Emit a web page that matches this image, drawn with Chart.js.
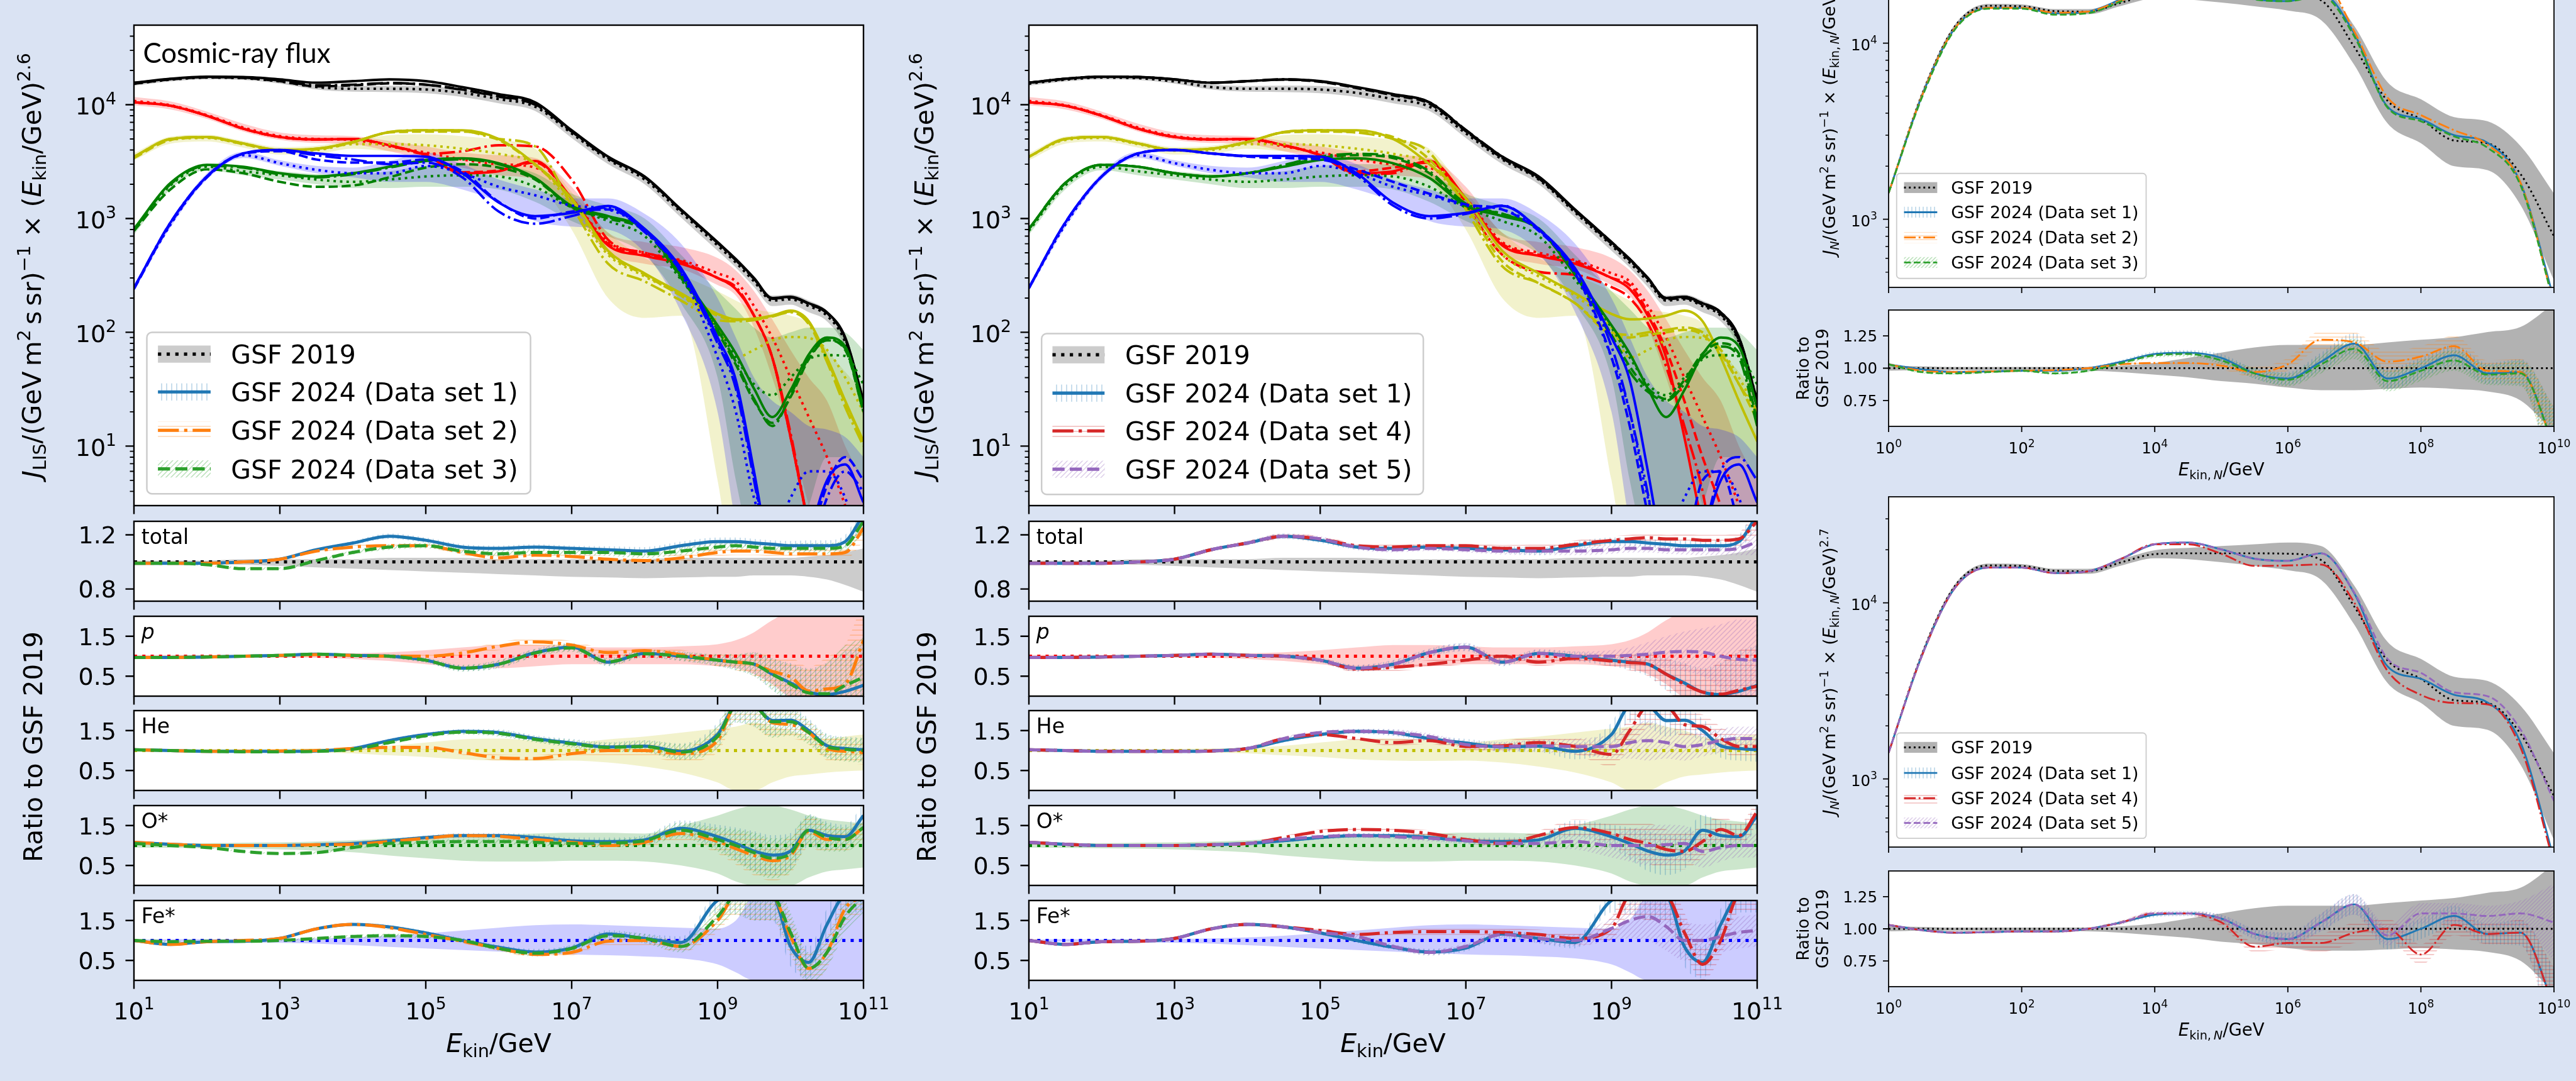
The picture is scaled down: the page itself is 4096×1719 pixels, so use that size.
<!DOCTYPE html>
<html>
<head>
<meta charset="utf-8">
<title>GSF 2019 vs GSF 2024</title>
<script src="https://cdn.jsdelivr.net/npm/chart.js@4.4.1/dist/chart.umd.min.js"></script>
<style>
  html, body { margin: 0; padding: 0; }
  body { width: 4096px; height: 1719px; overflow: hidden; background: #dae3f3; position: relative; }
  canvas { position: absolute; }
</style>
</head>
<body>
<script>
// ---------------- data ----------------
// kinetic energy grid (GeV), left and middle figures
const energy = [1e1, 3.16e1, 1e2, 3.16e2, 1e3, 3.16e3, 1e4, 3.16e4, 1e5, 3.16e5, 1e6, 3.16e6, 1e7, 3.16e7, 1e8, 3.16e8, 1e9, 1.78e9, 3.16e9, 5.62e9, 1e10, 1.78e10, 3.16e10, 5.62e10, 1e11];
// energy per nucleon grid (GeV), right figures
const energyN = [1, 3.16, 1e1, 3.16e1, 1e2, 3.16e2, 1e3, 3.16e3, 1e4, 3.16e4, 1e5, 3.16e5, 1e6, 3.16e6, 1e7, 3.16e7, 1e8, 3.16e8, 1e9, 3.16e9, 1e10];

// flux x E^2.6 : total
const tot2019 = [15300,16600,17300,17100,16000,14300,13800,13800,13600,12700,11200,9600,5600,3300,2200,1130,580,410,280,190,195,170,140,82,22];
const totLo   = [14700,16000,16700,16500,15300,13600,13000,12900,12600,11700,10300,8800,5100,3000,2000,1020,520,370,250,170,175,150,125,72,18];
const totHi   = [15900,17200,17900,17700,16700,15000,14600,14700,14600,13700,12100,10400,6100,3600,2400,1240,640,450,310,210,215,190,155,92,26];
const totDS1  = [15600,16900,17600,17500,16700,15600,16100,16700,16100,14300,12400,10500,5960,3490,2340,1200,620,440,300,200,205,180,150,90,25];
const totDS2  = [15500,16800,17500,17300,16300,14800,15000,15500,15000,13500,11800,10000,5800,3400,2300,1180,610,430,295,197,202,177,147,88,24];
const totDS3  = [15300,16700,17400,17200,16100,14500,14800,15400,15000,13600,11900,10100,5850,3450,2300,1190,615,435,297,198,203,178,148,89,24];
const totDS4  = [15600,16900,17600,17500,16700,15600,16100,16700,16000,14200,12300,10500,6000,3500,2300,1190,620,440,300,200,205,180,150,90,25];
const totDS5  = [15600,16900,17600,17500,16700,15600,16100,16600,15900,14000,12100,10200,5850,3400,2250,1170,600,430,295,195,200,175,145,85,22];
// protons
const p2019 = [10800,9900,8100,6300,5300,5000,4900,4300,3800,3300,3000,2800,1500,620,500,430,330,280,170,90,40,18,8,3,1];
const pLo   = [9900,9100,7500,5800,4900,4600,4500,3900,3300,2800,2400,2200,1200,500,400,360,260,210,110,40,12,3,0.8,0.3,0.1];
const pHi   = [11700,10700,8700,6800,5700,5400,5300,4800,4300,3800,3600,3400,1900,750,620,560,450,350,230,130,70,40,25,10,5];
const pDS1  = [10500,9800,8000,6150,5200,4950,5000,4400,3600,2500,2600,3200,1500,580,470,400,300,240,140,60,12,2,0.5,0.3,0.2];
const pDS2  = [10500,9800,8000,6150,5200,4950,5000,4400,3700,3900,4400,4300,2200,650,500,420,300,250,140,60,13,2,0.5,0.3,0.2];
const pDS3  = [10500,9800,8000,6150,5200,4950,5000,4400,3600,2550,2650,3100,1500,600,480,410,300,240,140,60,12,2,0.5,0.3,0.2];
const pDS4  = [10500,9800,8000,6150,5200,4950,5000,4400,3600,2450,2500,3200,1300,480,340,320,250,200,120,50,15,4,0.5,0.3,0.2];
const pDS5  = [10500,9800,8000,6150,5200,4950,5000,4400,3600,2600,2800,3100,1400,600,480,420,300,260,150,70,25,8,3,1,0.5];
// helium
const he2019 = [3490,4900,5100,4500,3950,4000,4500,4500,4400,4100,3700,3000,1300,480,310,210,110,60,70,85,91,89,70,40,20];
const heLo   = [3250,4550,4750,4200,3650,3700,4100,3900,3700,3300,2800,2200,800,200,134,140,5,0.5,0.2,0.2,0.2,0.2,0.2,0.2,0.2];
const heHi   = [3750,5250,5450,4800,4250,4350,4900,5400,5500,5300,4900,4100,1700,750,450,320,230,190,160,150,140,120,70,45,30];
const heDS1  = [3490,5000,5200,4560,4000,4100,4700,5750,5960,5960,5000,3000,1500,520,330,220,145,130,132,140,155,125,60,25,11];
const heDS2  = [3490,5000,5200,4560,4000,4100,4700,5750,5960,5900,5000,4300,1300,400,280,190,128,125,128,138,150,118,55,22,10];
const heDS3  = [3400,4900,5150,4500,3950,4050,4650,5700,5800,5800,4900,2950,1450,500,320,210,140,128,130,138,152,122,58,24,11];
const heDS4  = [3490,5000,5200,4560,4000,4100,4700,5750,5960,5700,5000,3800,1200,380,270,180,100,95,100,105,110,100,70,35,20];
const heDS5  = [3490,5000,5200,4560,4000,4100,4700,5700,5800,5700,5200,3300,1300,420,270,180,95,90,95,100,105,95,65,35,17];
// oxygen group
const o2019 = [780,1950,2850,2600,2400,2200,2100,2200,2340,2400,2340,1900,1250,950,700,290,110,60,35,28,40,58,63,62,35];
const oLo   = [720,1800,2650,2400,2200,2000,1850,1850,1900,1900,1800,1400,950,700,480,180,40,5,1,0.5,1,3,8,8,5];
const oHi   = [850,2100,3050,2800,2600,2450,2400,2600,2900,3000,2950,2500,1650,1300,1000,480,230,160,110,90,100,110,110,100,70];
const oDS1  = [810,2050,2960,2850,2500,2340,2500,2850,3270,3380,3060,2270,1290,1050,810,320,115,65,32,18,31,64,90,75,22];
const oDS2  = [800,2000,2900,2800,2450,2300,2450,2800,3200,3300,3000,2250,1270,1030,800,310,105,55,26,15,28,60,86,72,20];
const oDS3  = [780,1800,2700,2500,2100,1900,1950,2300,2800,3000,2800,2200,1250,1000,780,300,100,52,25,16,27,58,85,70,20];
const oDS4  = [810,2050,2960,2850,2500,2340,2500,2950,3500,3700,3500,2600,1350,1100,800,320,90,45,30,25,35,60,75,60,15];
const oDS5  = [810,2050,2960,2850,2500,2340,2500,2900,3400,3600,3400,2500,1300,1100,820,330,95,50,32,26,38,65,80,65,17];
// iron group
const fe2019 = [245,880,2340,3600,3060,2680,2500,2500,2900,2500,1900,1600,1300,1200,800,330,60,20,3.5,1.5,3.5,6,6,3.5,1];
const feLo   = [230,830,2200,3400,2900,2500,2300,2100,2100,1800,1400,950,850,800,500,150,20,2,0.3,0.2,0.2,0.2,0.2,0.2,0.2];
const feHi   = [260,940,2500,3850,3250,2900,2800,3200,3800,3000,2200,1800,1500,1500,1100,600,200,90,40,25,20,15,14,12,8];
const feDS1  = [245,920,2340,3730,4000,3730,3550,3550,3490,2500,1380,1050,1120,1290,810,365,90,38,6,0.8,0.3,1.5,5,6.9,3.2];
const feDS2  = [245,920,2340,3730,3950,3600,3300,3000,3100,2300,1150,900,1050,1250,760,340,80,32,5,0.7,0.3,1,3.5,6,4];
const feDS3  = [240,900,2300,3700,3900,3300,3100,3100,3300,2600,1400,1000,1150,1200,780,350,85,35,5.5,0.7,0.3,1.3,4.5,8,5];
const feDS4  = [245,920,2340,3730,4000,3730,3550,3550,3400,2400,1300,1000,1100,1300,800,350,75,20,3.8,0.5,0.3,1.5,6,8,5];
const feDS5  = [245,920,2340,3730,4000,3730,3500,3400,3300,2700,2100,1650,1330,1200,780,330,60,15,2.5,0.5,1,5,6,2,0.5];

// ratios to GSF 2019
const rTotLo = [0.99,0.99,0.985,0.98,0.97,0.96,0.95,0.94,0.93,0.92,0.91,0.9,0.89,0.885,0.88,0.885,0.89,0.89,0.9,0.9,0.9,0.89,0.87,0.83,0.78];
const rTotHi = [1.01,1.01,1.01,1.02,1.02,1.02,1.02,1.03,1.03,1.03,1.02,1.02,1.02,1.02,1.02,1.03,1.03,1.03,1.03,1.03,1.03,1.04,1.05,1.07,1.1];
const rTot1 = [0.99,0.99,0.99,1.0,1.02,1.09,1.14,1.19,1.16,1.11,1.1,1.11,1.1,1.09,1.08,1.12,1.15,1.15,1.14,1.13,1.12,1.12,1.12,1.15,1.35];
const rTot2 = [0.99,0.99,0.99,1.0,1.02,1.08,1.11,1.12,1.12,1.07,1.03,1.05,1.04,1.02,1.01,1.03,1.07,1.08,1.08,1.07,1.06,1.06,1.06,1.07,1.25];
const rTot3 = [0.99,0.99,0.98,0.95,0.95,1.01,1.07,1.11,1.12,1.08,1.06,1.07,1.07,1.07,1.06,1.08,1.11,1.12,1.11,1.1,1.1,1.1,1.1,1.12,1.3];
const rTot4 = [0.99,0.99,0.99,1.0,1.02,1.09,1.14,1.19,1.17,1.12,1.11,1.12,1.12,1.1,1.1,1.13,1.16,1.17,1.18,1.17,1.17,1.16,1.16,1.17,1.3];
const rTot5 = [0.99,0.99,0.99,1.0,1.02,1.09,1.14,1.19,1.17,1.11,1.09,1.1,1.09,1.08,1.08,1.08,1.09,1.1,1.1,1.09,1.09,1.09,1.09,1.1,1.15];
const errTot = [0.01,0.01,0.01,0.01,0.01,0.01,0.015,0.02,0.02,0.02,0.02,0.02,0.02,0.025,0.03,0.03,0.03,0.03,0.03,0.03,0.035,0.04,0.04,0.05,0.1];

const rPLo = [0.95,0.95,0.96,0.97,0.97,0.96,0.93,0.88,0.8,0.72,0.7,0.75,0.8,0.8,0.8,0.8,0.75,0.7,0.55,0.3,0,0,0,0,0];
const rPHi = [1.03,1.03,1.03,1.03,1.04,1.05,1.07,1.1,1.15,1.22,1.28,1.28,1.25,1.22,1.22,1.25,1.3,1.4,1.6,1.9,2.1,2.1,2.1,2.1,2.1];
const rP1 = [0.97,0.97,0.98,1.0,1.02,1.05,1.02,1.0,0.9,0.7,0.8,1.09,1.23,0.85,1.07,1.0,0.9,0.85,0.8,0.55,0.33,0.1,0.04,0.12,0.27];
const rP2 = [0.97,0.97,0.98,1.0,1.02,1.04,1.02,1.0,1.0,1.08,1.25,1.36,1.28,1.09,1.14,1.04,0.9,0.85,0.8,0.62,0.48,0.13,0.18,0.3,1.4];
const rP3 = [0.97,0.97,0.98,1.0,1.02,1.05,1.02,1.0,0.9,0.7,0.8,1.08,1.21,0.86,1.06,1.0,0.9,0.85,0.8,0.55,0.3,0.08,0.06,0.27,0.47];
const rP4 = [0.97,0.97,0.98,1.0,1.02,1.05,1.02,1.0,0.9,0.68,0.72,0.8,0.9,1.0,0.85,0.95,0.88,0.84,0.8,0.55,0.3,0.1,0.05,0.15,0.25];
const rP5 = [0.97,0.97,0.98,1.0,1.02,1.05,1.02,1.0,0.9,0.7,0.8,1.09,1.23,0.85,1.07,1.0,1.0,1.02,1.05,1.1,1.12,1.1,1.0,0.92,0.9];
const errP = [0.02,0.02,0.02,0.02,0.02,0.03,0.04,0.05,0.06,0.08,0.1,0.1,0.1,0.1,0.1,0.12,0.15,0.2,0.3,0.4,0.5,0.6,0.8,1.0,1.0];

const rHeLo = [0.97,0.97,0.97,0.97,0.96,0.95,0.93,0.88,0.84,0.78,0.75,0.74,0.75,0.7,0.6,0.45,0.2,0,0,0.2,0.35,0.4,0.45,0.48,0.5];
const rHeHi = [1.03,1.03,1.03,1.03,1.04,1.05,1.07,1.12,1.2,1.28,1.3,1.25,1.2,1.28,1.35,1.45,1.55,1.6,1.7,1.6,1.5,1.35,1.3,1.35,1.4];
const rHe1 = [1.02,1.0,0.98,0.98,0.98,0.99,1.05,1.25,1.4,1.48,1.45,1.3,1.19,1.09,1.11,0.98,1.4,2.1,2.1,1.75,1.76,1.5,1.12,1.05,1.02];
const rHe2 = [1.02,1.0,0.98,0.98,0.99,1.0,1.05,1.08,1.08,0.95,0.82,0.8,0.92,1.0,1.0,0.92,1.25,2.1,2.1,1.7,1.65,1.45,1.05,0.98,0.95];
const rHe3 = [1.02,1.0,0.98,0.97,0.97,0.98,1.03,1.2,1.37,1.46,1.43,1.28,1.17,1.08,1.1,0.96,1.35,2.1,2.1,1.72,1.72,1.45,1.1,1.03,1.0];
const rHe4 = [1.02,1.0,0.98,0.98,0.98,0.99,1.05,1.3,1.4,1.3,1.2,1.25,1.1,1.12,1.2,1.1,0.9,1.5,2.1,2.1,1.65,1.6,1.3,1.1,1.1];
const rHe5 = [1.02,1.0,0.98,0.98,0.98,0.99,1.05,1.3,1.45,1.48,1.45,1.35,1.15,1.1,1.12,1.1,1.1,1.2,1.25,1.2,1.1,1.15,1.25,1.3,1.3];
const errHe = [0.02,0.02,0.02,0.02,0.02,0.03,0.04,0.05,0.05,0.06,0.08,0.08,0.1,0.12,0.15,0.2,0.3,0.4,0.5,0.4,0.35,0.3,0.3,0.3,0.3];

const rOLo = [0.95,0.94,0.93,0.92,0.9,0.87,0.83,0.75,0.68,0.62,0.6,0.6,0.62,0.62,0.6,0.5,0.3,0.1,0,0,0,0.2,0.35,0.4,0.45];
const rOHi = [1.05,1.06,1.06,1.07,1.08,1.1,1.13,1.18,1.22,1.25,1.27,1.3,1.32,1.32,1.3,1.5,1.75,1.9,2.0,2.0,1.9,1.75,1.65,1.6,1.55];
const rO1 = [1.08,1.03,1.0,1.0,1.0,1.02,1.05,1.12,1.2,1.25,1.25,1.2,1.12,1.1,1.14,1.43,1.22,1.05,0.86,0.76,0.86,1.38,1.25,1.22,1.75];
const rO2 = [1.08,1.03,1.0,1.0,1.0,1.02,1.03,1.1,1.18,1.25,1.23,1.15,1.08,1.0,1.08,1.3,1.1,0.92,0.75,0.62,0.75,1.35,1.15,1.15,1.45];
const rO3 = [1.05,1.0,0.95,0.85,0.8,0.82,0.95,1.05,1.08,1.1,1.1,1.08,1.05,1.06,1.12,1.38,1.15,1.0,0.82,0.68,0.8,1.38,1.2,1.15,1.45];
const rO4 = [1.08,1.03,1.0,1.0,1.0,1.02,1.05,1.2,1.35,1.4,1.38,1.3,1.15,1.05,1.25,1.45,1.3,1.15,1.05,0.9,0.85,1.1,1.4,1.25,1.85];
const rO5 = [1.08,1.03,1.0,1.0,1.0,1.02,1.05,1.15,1.22,1.25,1.22,1.18,1.12,1.05,1.05,1.1,1.0,1.0,1.0,1.02,1.05,0.85,0.95,1.0,1.0];
const errO = [0.03,0.02,0.02,0.02,0.02,0.03,0.04,0.05,0.05,0.06,0.06,0.08,0.08,0.1,0.12,0.2,0.3,0.4,0.5,0.5,0.45,0.4,0.35,0.3,0.3];

const rFeLo = [0.98,0.97,0.96,0.95,0.94,0.92,0.88,0.84,0.8,0.76,0.72,0.68,0.65,0.63,0.6,0.55,0.4,0.2,0,0,0,0,0,0,0];
const rFeHi = [1.02,1.03,1.03,1.03,1.04,1.05,1.08,1.12,1.18,1.25,1.32,1.38,1.4,1.38,1.35,1.32,1.3,1.5,2.1,2.1,2.1,2.1,2.1,2.1,2.1];
const rFe1 = [1.0,0.9,0.97,0.98,1.05,1.29,1.4,1.34,1.19,1.0,0.83,0.71,0.81,1.16,1.05,0.95,2.0,2.1,2.1,2.1,0.85,0.45,1.4,2.1,2.1];
const rFe2 = [1.0,0.9,0.97,1.0,1.05,1.29,1.4,1.32,1.15,0.98,0.8,0.65,0.7,0.98,1.0,0.85,1.5,2.1,2.1,2.1,1.1,0.3,0.7,1.8,2.1];
const rFe3 = [1.0,0.97,0.98,0.98,1.0,1.05,1.1,1.12,1.1,1.0,0.8,0.68,0.8,1.12,1.05,0.85,1.6,2.1,2.1,2.1,1.2,0.3,0.7,1.6,2.1];
const rFe4 = [1.0,0.9,0.97,0.98,1.05,1.29,1.4,1.34,1.25,1.15,1.2,1.22,1.22,1.2,1.15,1.05,1.3,2.1,2.1,2.1,1.2,0.4,1.0,2.1,2.1];
const rFe5 = [1.0,0.9,0.97,0.98,1.05,1.29,1.4,1.34,1.2,1.1,0.85,0.7,0.85,1.15,1.05,1.0,1.3,1.5,1.6,1.35,1.0,1.0,1.1,1.2,1.25];
const errFe = [0.03,0.02,0.02,0.02,0.02,0.03,0.04,0.05,0.05,0.06,0.06,0.08,0.08,0.1,0.12,0.15,0.3,0.45,0.6,0.6,0.5,0.4,0.4,0.4,0.4];

// all-particle flux per nucleon x E^2.7 (right figures)
const all2019 = [1410,5100,12500,16300,16200,15200,15100,17000,18900,19100,19100,19100,19000,17500,9500,4700,3700,2800,2700,1800,800];
const allLo   = [1380,4950,12200,15900,15800,14800,14600,16300,17900,17700,17000,16200,15300,13500,7500,3500,2700,2000,1900,1200,450];
const allHi   = [1440,5250,12800,16700,16600,15600,15600,17700,19900,20500,21000,21500,22000,21000,12500,6000,4800,3800,3600,2600,1400];
const allDS1  = [1410,5000,12200,15850,15850,14760,15100,17800,21500,22000,20100,17800,17300,19100,11300,4350,3700,3000,2720,1600,350];
const allDS2  = [1410,5000,12200,15850,15850,14900,15100,17500,19600,19700,19100,18500,18900,23000,11600,4900,3900,3200,2650,1600,330];
const allDS3  = [1410,4900,12000,15700,15700,14500,14800,17300,20800,21000,19500,17700,17300,18600,10900,4300,3600,2950,2550,1550,330];
const allDS4  = [1410,5000,12200,15850,15850,14760,15100,17800,21500,21500,19000,16200,16300,16500,10000,4100,3000,2700,2650,1500,330];
const allDS5  = [1410,5000,12200,15850,15850,14760,15100,17800,21500,22000,20100,17800,17300,19100,11400,4800,4000,3100,2950,1900,750];
const rrLo  = [0.98,0.985,0.985,0.985,0.985,0.985,0.98,0.97,0.95,0.93,0.9,0.88,0.85,0.83,0.83,0.84,0.85,0.84,0.82,0.75,0.5];
const rrHi  = [1.02,1.015,1.01,1.01,1.01,1.01,1.01,1.02,1.04,1.08,1.12,1.16,1.18,1.18,1.18,1.2,1.22,1.24,1.28,1.32,1.5];
const rrDS1 = [1.03,0.99,0.97,0.975,0.98,0.98,1.0,1.05,1.11,1.12,1.08,0.96,0.92,1.05,1.19,0.92,1.0,1.1,0.96,0.97,0.4];
const rrDS2 = [1.03,0.98,0.97,0.975,0.98,0.985,1.0,1.03,1.04,1.04,1.02,0.97,1.03,1.22,1.2,1.05,1.09,1.17,0.98,0.97,0.4];
const rrDS3 = [1.03,0.97,0.96,0.97,0.98,0.96,0.98,1.04,1.1,1.11,1.06,0.96,0.91,1.03,1.15,0.9,0.98,1.06,0.95,0.96,0.4];
const rrDS4 = [1.03,0.99,0.97,0.975,0.98,0.98,1.0,1.05,1.12,1.12,1.05,0.86,0.89,0.89,0.97,1.0,0.8,1.03,0.96,0.97,0.4];
const rrDS5 = [1.03,0.99,0.97,0.975,0.98,0.98,1.0,1.05,1.12,1.12,1.08,0.96,0.92,1.05,1.19,0.95,1.12,1.12,1.1,1.12,1.05];
const rrErr = [0.01,0.01,0.01,0.01,0.01,0.01,0.01,0.015,0.02,0.02,0.03,0.04,0.05,0.07,0.08,0.08,0.08,0.08,0.08,0.1,0.3];

// tick values
const xTicksLeft = [1e1, 1e3, 1e5, 1e7, 1e9, 1e11];
const xTicksRight = [1, 1e2, 1e4, 1e6, 1e8, 1e10];

// ---------------- helpers ----------------
const S = 0.91;
const R = v => Math.round(v * S);
const unity = energy.map(() => 1);
const unityN = energyN.map(() => 1);

const SET = {
  1: { color: '#1f77b4', style: 'solid', hatch: ['|', 'rgba(31,119,180,0.33)'], label: 'GSF 2024 (Data set 1)' },
  2: { color: '#ff7f0e', style: 'dashdot', hatch: ['-', 'rgba(255,127,14,0.33)'], label: 'GSF 2024 (Data set 2)' },
  3: { color: '#2ca02c', style: 'dashed', hatch: ['/', 'rgba(44,160,44,0.33)'], label: 'GSF 2024 (Data set 3)' },
  4: { color: '#d62728', style: 'dashdot', hatch: ['-', 'rgba(214,39,40,0.33)'], label: 'GSF 2024 (Data set 4)' },
  5: { color: '#9467bd', style: 'dashed', hatch: ['/', 'rgba(148,103,189,0.33)'], label: 'GSF 2024 (Data set 5)' }
};

const COMPS = [
  { color: '#000000', fill: 'rgba(0,0,0,0.2)', lo: totLo, hi: totHi, ref: tot2019, sets: { 1: totDS1, 2: totDS2, 3: totDS3, 4: totDS4, 5: totDS5 } },
  { color: '#ff0000', fill: 'rgba(255,0,0,0.2)', lo: pLo, hi: pHi, ref: p2019, sets: { 1: pDS1, 2: pDS2, 3: pDS3, 4: pDS4, 5: pDS5 } },
  { color: '#bfbf00', fill: 'rgba(191,191,0,0.2)', lo: heLo, hi: heHi, ref: he2019, sets: { 1: heDS1, 2: heDS2, 3: heDS3, 4: heDS4, 5: heDS5 } },
  { color: '#008000', fill: 'rgba(0,128,0,0.2)', lo: oLo, hi: oHi, ref: o2019, sets: { 1: oDS1, 2: oDS2, 3: oDS3, 4: oDS4, 5: oDS5 } },
  { color: '#0000ff', fill: 'rgba(0,0,255,0.2)', lo: feLo, hi: feHi, ref: fe2019, sets: { 1: feDS1, 2: feDS2, 3: feDS3, 4: feDS4, 5: feDS5 } }
];

const PANELS = [
  { label: [{ t: 'total' }], color: '#000000', fill: 'rgba(0,0,0,0.2)', lo: rTotLo, hi: rTotHi, err: errTot, ymin: 0.71, ymax: 1.3, ticks: [0.8, 1.2], sets: { 1: rTot1, 2: rTot2, 3: rTot3, 4: rTot4, 5: rTot5 } },
  { label: [{ t: 'p', it: true }], color: '#ff0000', fill: 'rgba(255,0,0,0.2)', lo: rPLo, hi: rPHi, err: errP, ymin: 0, ymax: 2, ticks: [0.5, 1.5], sets: { 1: rP1, 2: rP2, 3: rP3, 4: rP4, 5: rP5 } },
  { label: [{ t: 'He' }], color: '#bfbf00', fill: 'rgba(191,191,0,0.2)', lo: rHeLo, hi: rHeHi, err: errHe, ymin: 0, ymax: 2, ticks: [0.5, 1.5], sets: { 1: rHe1, 2: rHe2, 3: rHe3, 4: rHe4, 5: rHe5 } },
  { label: [{ t: 'O*' }], color: '#008000', fill: 'rgba(0,128,0,0.2)', lo: rOLo, hi: rOHi, err: errO, ymin: 0, ymax: 2, ticks: [0.5, 1.5], sets: { 1: rO1, 2: rO2, 3: rO3, 4: rO4, 5: rO5 } },
  { label: [{ t: 'Fe*' }], color: '#0000ff', fill: 'rgba(0,0,255,0.2)', lo: rFeLo, hi: rFeHi, err: errFe, ymin: 0, ymax: 2, ticks: [0.5, 1.5], sets: { 1: rFe1, 2: rFe2, 3: rFe3, 4: rFe4, 5: rFe5 } }
];

const DASHES = { solid: [], dotted: [1, 1.65], dashed: [3.7, 1.6], dashdot: [6.4, 1.6, 1, 1.6] };
const dashFor = (style, lw) => DASHES[style].map(v => v * lw);

// hatch patterns like matplotlib '|', '-', '/'
function hatch(kind, color, step) {
  const c = document.createElement('canvas');
  c.width = c.height = step;
  const g = c.getContext('2d');
  g.strokeStyle = color;
  g.lineWidth = 1.5;
  g.beginPath();
  if (kind === '|') { g.moveTo(step / 2, 0); g.lineTo(step / 2, step); }
  else if (kind === '-') { g.moveTo(0, step / 2); g.lineTo(step, step / 2); }
  else {
    g.moveTo(-1, step + 1); g.lineTo(step + 1, -1);
    g.moveTo(-1, 1); g.lineTo(1, -1);
    g.moveTo(step - 1, step + 1); g.lineTo(step + 1, step - 1);
  }
  g.stroke();
  return g.createPattern(c, 'repeat');
}
const HATCH_BIG = {}, HATCH_SMALL = {};
[1, 2, 3, 4, 5].forEach(k => {
  HATCH_BIG[k] = hatch(SET[k].hatch[0], SET[k].hatch[1], 8);
  HATCH_SMALL[k] = hatch(SET[k].hatch[0], SET[k].hatch[1], 6);
});

const pts = (xs, ys) => xs.map((x, i) => ({ x: x, y: ys[i] }));

function lineDs(xs, ys, color, style, lw) {
  return { data: pts(xs, ys), borderColor: color, borderWidth: lw, borderDash: dashFor(style, lw),
    borderCapStyle: 'butt', borderJoinStyle: 'round', pointRadius: 0, fill: false };
}
function bandDs(xs, lo, hi, fillStyle) {
  return [
    { data: pts(xs, lo), borderWidth: 0, borderColor: 'rgba(0,0,0,0)', pointRadius: 0, fill: false },
    { data: pts(xs, hi), borderWidth: 0, borderColor: 'rgba(0,0,0,0)', pointRadius: 0, fill: '-1', backgroundColor: fillStyle }
  ];
}
function hatchDs(xs, mid, err, pattern) {
  return bandDs(xs, mid.map((v, i) => v - err[i]), mid.map((v, i) => v + err[i]), pattern);
}
function ordered(ds) {
  ds.forEach((d, i) => { d.order = ds.length - i; });
  return ds;
}

// rich text: segments {t, it, sub, sup}
function segFont(s, F) {
  const size = (s.sub || s.sup) ? F * 0.7 : F;
  return (s.it ? 'italic ' : '') + size.toFixed(2) + 'px "DejaVu Sans"';
}
function richWidth(ctx, segs, F) {
  let w = 0;
  segs.forEach(s => { ctx.font = segFont(s, F); w += ctx.measureText(s.t).width; });
  return w;
}
function drawRich(ctx, segs, F, x, y, align) {
  const w = richWidth(ctx, segs, F);
  let cx = align === 'center' ? x - w / 2 : (align === 'right' ? x - w : x);
  ctx.textAlign = 'left';
  ctx.textBaseline = 'alphabetic';
  segs.forEach(s => {
    ctx.font = segFont(s, F);
    const dy = s.sub ? 0.2 * F : (s.sup ? -0.42 * F : 0);
    ctx.fillText(s.t, cx, y + dy);
    cx += ctx.measureText(s.t).width;
  });
}
const powSegs = n => [{ t: '10' }, { t: String(n), sup: true }];

const STYLE_BIG = { spine: 2.4, tick: 13.5, minor: 6.5, tickF: 38, gap: 28, xoff: 62, lw: 5, mainLw: 3.9 };
const STYLE_SMALL = { spine: 1.8, tick: 9, minor: 5, tickF: 24.5, gap: 18, xoff: 43, lw: 2.9, mainLw: 2.9 };

// legend drawn inside a chart
function drawLegend(ctx, tx, ty, L, items) {
  const x0 = tx(L.box[0]), y0 = ty(L.box[1]), x1 = tx(L.box[2]), y1 = ty(L.box[3]);
  ctx.save();
  ctx.beginPath();
  ctx.roundRect(x0, y0, x1 - x0, y1 - y0, L.radius);
  ctx.fillStyle = 'rgba(255,255,255,0.8)';
  ctx.fill();
  ctx.strokeStyle = '#cccccc';
  ctx.lineWidth = L.border;
  ctx.stroke();
  items.forEach((it, i) => {
    const yc = ty(L.rows[i]);
    const hx0 = tx(L.hx[0]), hx1 = tx(L.hx[1]);
    ctx.fillStyle = it.patch;
    ctx.fillRect(hx0, yc - L.hh, hx1 - hx0, 2 * L.hh);
    ctx.strokeStyle = it.color;
    ctx.lineWidth = L.lw;
    ctx.lineCap = 'butt';
    ctx.setLineDash(dashFor(it.style, L.lw));
    ctx.beginPath();
    ctx.moveTo(hx0, yc);
    ctx.lineTo(hx1, yc);
    ctx.stroke();
    ctx.setLineDash([]);
    ctx.fillStyle = '#000';
    ctx.font = L.F + 'px "DejaVu Sans"';
    ctx.textAlign = 'left';
    ctx.textBaseline = 'alphabetic';
    ctx.fillText(it.label, tx(L.tx), yc + 0.365 * L.F);
  });
  ctx.restore();
}

// one Chart.js chart per axes box (rect in reference pixels)
function makeChart(rect, cfg) {
  const px0 = R(rect[0]), px1 = R(rect[1]), py0 = R(rect[2]), py1 = R(rect[3]);
  const m = { l: 200, r: 70, t: 14, b: 90 };
  const cv = document.createElement('canvas');
  cv.width = px1 - px0 + m.l + m.r;
  cv.height = py1 - py0 + m.t + m.b;
  const ox = px0 - m.l, oy = py0 - m.t;
  cv.style.left = ox + 'px';
  cv.style.top = oy + 'px';
  document.body.appendChild(cv);
  const tx = xr => xr * S - ox, ty = yr => yr * S - oy;
  const st = cfg.st;

  const axesDeco = {
    id: 'axesDeco',
    beforeDraw(chart) {
      const a = chart.chartArea;
      chart.ctx.save();
      chart.ctx.fillStyle = '#ffffff';
      chart.ctx.fillRect(a.left, a.top, a.right - a.left, a.bottom - a.top);
      chart.ctx.restore();
    },
    afterDraw(chart) {
      const ctx = chart.ctx, a = chart.chartArea;
      const xs = chart.scales.x, ys = chart.scales.y;
      ctx.save();
      ctx.strokeStyle = '#000';
      ctx.lineCap = 'butt';
      ctx.lineWidth = st.spine;
      ctx.beginPath();
      cfg.xticks.forEach(v => { const p = xs.getPixelForValue(v); ctx.moveTo(p, a.bottom); ctx.lineTo(p, a.bottom + st.tick); });
      cfg.yticks.forEach(t => { const p = ys.getPixelForValue(t.v); ctx.moveTo(a.left, p); ctx.lineTo(a.left - st.tick, p); });
      ctx.stroke();
      if (cfg.yminor) {
        ctx.lineWidth = st.spine * 0.8;
        ctx.beginPath();
        cfg.yminor.forEach(v => { const p = ys.getPixelForValue(v); ctx.moveTo(a.left, p); ctx.lineTo(a.left - st.minor, p); });
        ctx.stroke();
      }
      ctx.lineWidth = st.spine;
      ctx.strokeRect(a.left, a.top, a.right - a.left, a.bottom - a.top);
      ctx.fillStyle = '#000';
      cfg.yticks.forEach(t => {
        const p = ys.getPixelForValue(t.v);
        drawRich(ctx, t.segs, st.tickF, a.left - st.gap, p + 0.365 * st.tickF + (t.segs.length > 1 ? 2 : 0), 'right');
      });
      if (cfg.xlabels) {
        cfg.xlabels.forEach(t => {
          const p = xs.getPixelForValue(t.v);
          drawRich(ctx, t.segs, st.tickF, p, a.bottom + st.xoff, 'center');
        });
      }
      if (cfg.extra) cfg.extra(ctx, a, tx, ty);
      ctx.restore();
    }
  };

  return new Chart(cv.getContext('2d'), {
    type: 'line',
    data: { datasets: cfg.datasets },
    options: {
      responsive: false,
      animation: false,
      devicePixelRatio: 1,
      events: [],
      layout: { padding: { left: m.l, right: m.r, top: m.t, bottom: m.b } },
      plugins: { legend: { display: false }, tooltip: { enabled: false } },
      scales: {
        x: { type: 'logarithmic', min: cfg.xmin, max: cfg.xmax, display: false },
        y: { type: cfg.ylog ? 'logarithmic' : 'linear', min: cfg.ymin, max: cfg.ymax, display: false }
      },
      elements: { point: { radius: 0 }, line: { cubicInterpolationMode: 'monotone' } }
    },
    plugins: [axesDeco]
  });
}

// ---------------- layout (reference pixels) ----------------
const COLS = { left: [234, 1509], mid: [1798, 3070] };
const MAIN_Y = [44, 884];
const RATIO_Y = [[911, 1050.5], [1076.6, 1216], [1242.2, 1381.6], [1407.8, 1547.2], [1573.4, 1713]];
const RIGHT_X = [3300, 4463];

const mainMinor = [];
[1, 10, 100, 1000, 10000].forEach(d => { for (let k = 2; k <= 9; k++) { const v = k * d; if (v > 3 && v < 5e4) mainMinor.push(v); } });
const rightMinor = [];
[100, 1000, 10000].forEach(d => { for (let k = 2; k <= 9; k++) { const v = k * d; if (v > 410 && v < 4e4) rightMinor.push(v); } });

const legendItems = (sets, patch2019) => [{ label: 'GSF 2019', color: '#000', style: 'dotted', patch: patch2019 }]
  .concat(sets.map(k => ({ label: SET[k].label, color: SET[k].color, style: SET[k].style, patch: HATCH_BIG[k] })));
const legendItemsSmall = (sets) => [{ label: 'GSF 2019', color: '#000', style: 'dotted', patch: 'rgba(0,0,0,0.3)' }]
  .concat(sets.map(k => ({ label: SET[k].label, color: SET[k].color, style: SET[k].style, patch: HATCH_SMALL[k] })));

function buildColumn(col, sets, legend, withTitle) {
  const xr = COLS[col];
  // main flux axes
  const ds = [];
  COMPS.forEach(c => ds.push(...bandDs(energy, c.lo, c.hi, c.fill)));
  COMPS.forEach(c => {
    ds.push(lineDs(energy, c.ref, c.color, 'dotted', STYLE_BIG.mainLw));
    sets.forEach(k => ds.push(lineDs(energy, c.sets[k], c.color, SET[k].style, STYLE_BIG.mainLw)));
  });
  makeChart([xr[0], xr[1], MAIN_Y[0], MAIN_Y[1]], {
    st: STYLE_BIG, xmin: 1e1, xmax: 1e11, ylog: true, ymin: 3, ymax: 5e4,
    datasets: ordered(ds), xticks: xTicksLeft,
    yticks: [1, 2, 3, 4].map(n => ({ v: Math.pow(10, n), segs: powSegs(n) })), yminor: mainMinor,
    extra(ctx, a, tx, ty) {
      if (withTitle) {
        ctx.fillStyle = '#000';
        ctx.font = (48 * S).toFixed(1) + 'px Lato';
        ctx.textAlign = 'left';
        ctx.textBaseline = 'alphabetic';
        ctx.fillText('Cosmic-ray flux', tx(250), ty(110));
      }
      drawLegend(ctx, tx, ty, legend, legendItems(sets, 'rgba(0,0,0,0.2)'));
    }
  });
  // ratio panels
  PANELS.forEach((p, i) => {
    const rds = [];
    rds.push(...bandDs(energy, p.lo, p.hi, p.fill));
    sets.forEach(k => rds.push(...hatchDs(energy, p.sets[k], p.err, HATCH_BIG[k])));
    rds.push(lineDs(energy, unity, p.color, 'dotted', STYLE_BIG.lw));
    sets.forEach(k => rds.push(lineDs(energy, p.sets[k], SET[k].color, SET[k].style, STYLE_BIG.lw)));
    const last = i === PANELS.length - 1;
    makeChart([xr[0], xr[1], RATIO_Y[i][0], RATIO_Y[i][1]], {
      st: STYLE_BIG, xmin: 1e1, xmax: 1e11, ylog: false, ymin: p.ymin, ymax: p.ymax,
      datasets: ordered(rds), xticks: xTicksLeft,
      yticks: p.ticks.map(v => ({ v: v, segs: [{ t: v.toFixed(1) }] })),
      xlabels: last ? [1, 3, 5, 7, 9, 11].map(n => ({ v: Math.pow(10, n), segs: powSegs(n) })) : null,
      extra(ctx, a, tx, ty) {
        ctx.fillStyle = '#000';
        drawRich(ctx, p.label, 33, a.left + 13 * S, a.top + 40 * S, 'left');
      }
    });
  });
}

function buildRight(yMain, yRatio, sets, legend, flux) {
  const ds = [];
  ds.push(...bandDs(energyN, allLo, allHi, 'rgba(0,0,0,0.3)'));
  ds.push(lineDs(energyN, all2019, '#000', 'dotted', STYLE_SMALL.mainLw));
  sets.forEach(k => ds.push(lineDs(energyN, flux[k], SET[k].color, SET[k].style, STYLE_SMALL.mainLw)));
  makeChart([RIGHT_X[0], RIGHT_X[1], yMain[0], yMain[1]], {
    st: STYLE_SMALL, xmin: 1, xmax: 1e10, ylog: true, ymin: 410, ymax: 4e4,
    datasets: ordered(ds), xticks: xTicksRight,
    yticks: [3, 4].map(n => ({ v: Math.pow(10, n), segs: powSegs(n) })), yminor: rightMinor,
    extra(ctx, a, tx, ty) { drawLegend(ctx, tx, ty, legend, legendItemsSmall(sets)); }
  });
  const ratios = { 1: rrDS1, 2: rrDS2, 3: rrDS3, 4: rrDS4, 5: rrDS5 };
  const rds = [];
  rds.push(...bandDs(energyN, rrLo, rrHi, 'rgba(0,0,0,0.3)'));
  sets.forEach(k => rds.push(...hatchDs(energyN, ratios[k], rrErr, HATCH_SMALL[k])));
  rds.push(lineDs(energyN, unityN, '#000', 'dotted', STYLE_SMALL.lw));
  sets.forEach(k => rds.push(lineDs(energyN, ratios[k], SET[k].color, SET[k].style, STYLE_SMALL.lw)));
  makeChart([RIGHT_X[0], RIGHT_X[1], yRatio[0], yRatio[1]], {
    st: STYLE_SMALL, xmin: 1, xmax: 1e10, ylog: false, ymin: 0.55, ymax: 1.45,
    datasets: ordered(rds), xticks: xTicksRight,
    yticks: [0.75, 1.0, 1.25].map(v => ({ v: v, segs: [{ t: v.toFixed(2) }] })),
    xlabels: [0, 2, 4, 6, 8, 10].map(n => ({ v: Math.pow(10, n), segs: powSegs(n) }))
  });
}

const LEG_BIG = { radius: 9 * S, border: 2.7 * S, hh: 15 * S, F: 41, lw: 5.2 };
buildColumn('left', [1, 2, 3], Object.assign({ box: [256.6, 580.7, 927, 863], hx: [276, 368], tx: 403.5, rows: [618.8, 684.9, 751.9, 819.4] }, LEG_BIG), true);
buildColumn('mid', [1, 4, 5], Object.assign({ box: [1820, 583, 2487, 864], hx: [1839, 1930], tx: 1966, rows: [620, 687, 753, 820] }, LEG_BIG), false);

const LEG_SMALL = { radius: 6 * S, border: 2 * S, hh: 9.5 * S, F: 26.8, lw: 2.9, box: null };
buildRight([-110.4, 501.7], [542, 745], [1, 2, 3],
  Object.assign({}, LEG_SMALL, { box: [3314, 303, 3750, 486.5], hx: [3327, 3385], tx: 3409, rows: [327.8, 370.8, 415, 458.7] }),
  { 1: allDS1, 2: allDS2, 3: allDS3 });
buildRight([867.6, 1479.7], [1522, 1724.6], [1, 4, 5],
  Object.assign({}, LEG_SMALL, { box: [3314, 1280.8, 3750, 1465], hx: [3327, 3385], tx: 3409, rows: [1306, 1350.7, 1394.7, 1438] }),
  { 1: allDS1, 4: allDS4, 5: allDS5 });

// ---------------- axis titles (overlay) ----------------
const ov = document.createElement('canvas');
ov.width = 4096; ov.height = 1719;
ov.style.left = '0px'; ov.style.top = '0px';
document.body.appendChild(ov);
const octx = ov.getContext('2d');
octx.fillStyle = '#000';

function rotLabel(segs, F, cxRef, cyRef) {
  octx.save();
  octx.translate(cxRef * S, cyRef * S);
  octx.rotate(-Math.PI / 2);
  drawRich(octx, segs, F, 0, 0.365 * F, 'center');
  octx.restore();
}
function flatLabel(segs, F, cxRef, cyRef) {
  drawRich(octx, segs, F, cxRef * S, cyRef * S + 0.365 * F, 'center');
}

const yTitleLIS = [{ t: 'J', it: true }, { t: 'LIS', sub: true }, { t: '/(GeV\u2009m' }, { t: '2', sup: true }, { t: '\u2009s\u2009sr)' },
  { t: '\u22121', sup: true }, { t: ' \u00d7 (' }, { t: 'E', it: true }, { t: 'kin', sub: true }, { t: '/GeV)' }, { t: '2.6', sup: true }];
const yTitleN = [{ t: 'J', it: true }, { t: 'N', sub: true, it: true }, { t: '/(GeV\u2009m' }, { t: '2', sup: true }, { t: '\u2009s\u2009sr)' },
  { t: '\u22121', sup: true }, { t: ' \u00d7 (' }, { t: 'E', it: true }, { t: 'kin,\u2009', sub: true }, { t: 'N', sub: true, it: true }, { t: '/GeV)' }, { t: '2.7', sup: true }];
const xTitle = [{ t: 'E', it: true }, { t: 'kin', sub: true }, { t: '/GeV' }];
const xTitleN = [{ t: 'E', it: true }, { t: 'kin,\u2009', sub: true }, { t: 'N', sub: true, it: true }, { t: '/GeV' }];
const ratioTitle = [{ t: 'Ratio to GSF 2019' }];

rotLabel(yTitleLIS, 41, 55, 464);
rotLabel(ratioTitle, 40.5, 57.5, 1305);
flatLabel(xTitle, 41, 871.5, 1822);
rotLabel(yTitleLIS, 41, 1614, 464);
rotLabel(ratioTitle, 40.5, 1619, 1305);
flatLabel(xTitle, 41, 2434, 1822);

rotLabel(yTitleN, 27, 3196, 195.6);
rotLabel(yTitleN, 27, 3196, 1173.6);
[643.5, 1623].forEach(cy => {
  rotLabel([{ t: 'Ratio to' }], 26, 3150, cy);
  rotLabel([{ t: 'GSF 2019' }], 26, 3184, cy);
});
flatLabel(xTitleN, 27.5, 3881.5, 820);
flatLabel(xTitleN, 27.5, 3881.5, 1799);
</script>
</body>
</html>
